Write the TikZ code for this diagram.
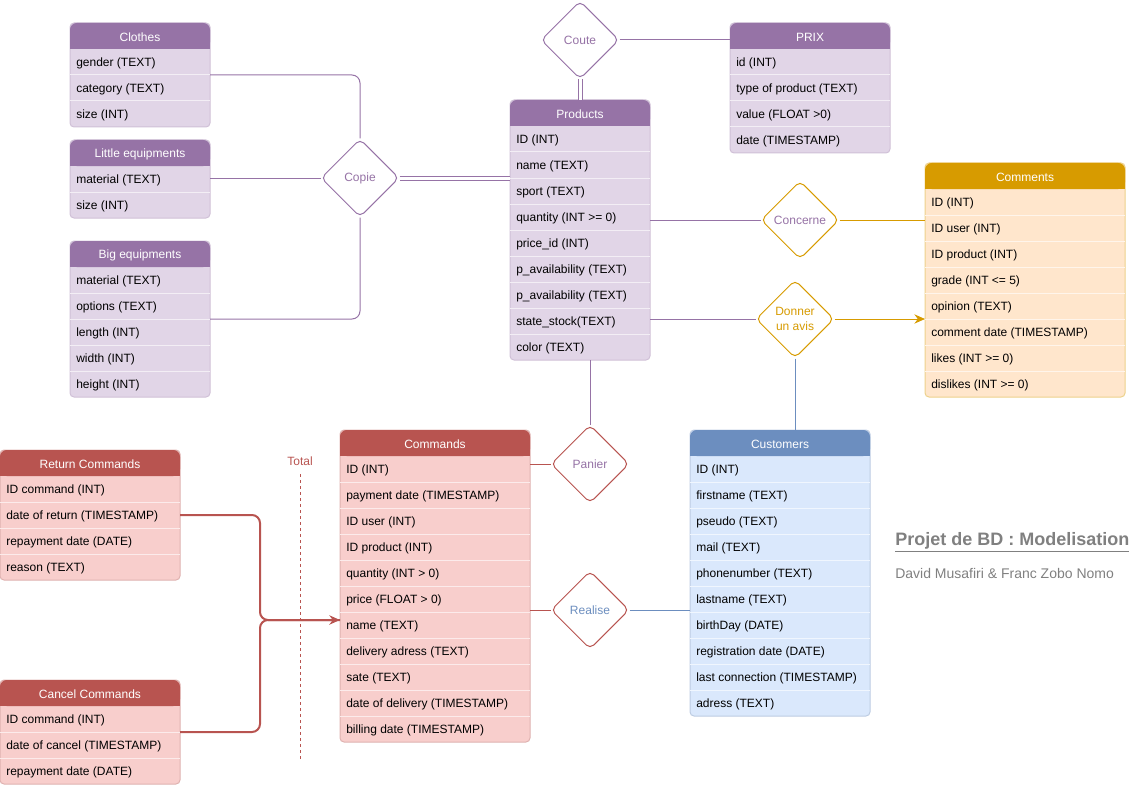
\documentclass[tikz,border=0pt]{standalone}
\usepackage{fontspec}
\setmainfont{Liberation Sans}
\usetikzlibrary{shapes.geometric,arrows.meta}

\definecolor{purplehd}{HTML}{9673A6}
\definecolor{purplebg}{HTML}{E1D5E7}
\definecolor{orangehd}{HTML}{D79B00}
\definecolor{orangebg}{HTML}{FFE6CC}
\definecolor{redhd}{HTML}{B85450}
\definecolor{redbg}{HTML}{F8CECC}
\definecolor{bluehd}{HTML}{6C8EBF}
\definecolor{bluebg}{HTML}{DAE8FC}
\definecolor{titlegray}{HTML}{808080}

\tikzset{
  field/.style={anchor=west, inner sep=0pt, text=black},
  heading/.style={text=white, inner sep=0pt},
  entitybox/.style={inner sep=0pt, outer sep=0pt},
  rel/.style={diamond, draw=#1, fill=white, line width=0.75pt, rounded corners=4pt,
    minimum width=58.5pt, minimum height=58.5pt, inner sep=0pt, align=center},
  link/.style={draw=#1, line width=0.75pt},
}

% #1 name, #2 x, #3 y, #4 width, #5 rows, #6 colour, #7 title, #8 fields
\newcommand{\erentity}[8]{%
  \fill[#6bg, rounded corners=3pt] (#2,#3) rectangle ++(#4,26+26*#5);
  \draw[#6hd!45, line width=0.75pt, rounded corners=3pt] (#2,#3) rectangle ++(#4,26+26*#5);
  \fill[#6hd, rounded corners=5pt] (#2,#3) rectangle ++(#4,26);
  \fill[#6hd] (#2,#3+13) rectangle ++(#4,13);
  \node[entitybox, anchor=north west, minimum width={#4*0.75pt},
    minimum height={(26+26*#5)*0.75pt}] (#1) at (#2,#3) {};
  \node[heading] (#1-h) at (#2+#4/2,#3+14) {#7};
  \foreach \f [count=\i] in {#8} {
    \ifnum\i>1 \draw[white!60!#6bg, line width=0.75pt] (#2,#3+26*\i) -- ++(#4,0); \fi
    \node[field] (#1-\i) at (#2+6,#3+14.5+26*\i) {\f};
  }%
}

\begin{document}
\begin{tikzpicture}[x=0.75pt, y=-0.75pt, font=\fontsize{9}{11}\selectfont]
    \useasboundingbox (0,0) rectangle (1141,788);

    % Produits et categories
    \erentity{clothes}{70}{23}{140}{3}{purple}{Clothes}{gender (TEXT), category (TEXT), size (INT)}
    \erentity{little}{70}{140}{140}{2}{purple}{Little equipments}{material (TEXT), size (INT)}
    \erentity{big}{70}{241}{140}{5}{purple}{Big equipments}{material (TEXT), options (TEXT), length (INT), width (INT), height (INT)}
    \erentity{products}{510}{100}{140}{9}{purple}{Products}{ID (INT), name (TEXT), sport (TEXT), quantity (INT >= 0), price\_id (INT), p\_availability (TEXT), p\_availability (TEXT), state\_stock(TEXT), color (TEXT)}
    \erentity{prix}{730}{23}{160}{4}{purple}{PRIX}{id (INT), type of product (TEXT), value (FLOAT >0), date (TIMESTAMP)}

    % Avis
    \erentity{comments}{925}{163}{200}{8}{orange}{Comments}{ID (INT), ID user (INT), ID product (INT), grade (INT <= 5), opinion (TEXT), comment date (TIMESTAMP), likes (INT >= 0), dislikes (INT >= 0)}

    % Commandes
    \erentity{returns}{0}{450}{180}{4}{red}{Return Commands}{ID command (INT), date of return (TIMESTAMP), repayment date (DATE), reason (TEXT)}
    \erentity{cancel}{0}{680}{180}{3}{red}{Cancel Commands}{ID command (INT), date of cancel (TIMESTAMP), repayment date (DATE)}
    \erentity{commands}{340}{430}{190}{11}{red}{Commands}{ID (INT), payment date (TIMESTAMP), ID user (INT), ID product (INT), quantity (INT > 0), price (FLOAT > 0), name (TEXT), delivery adress (TEXT), sate (TEXT), date of delivery (TIMESTAMP), billing date (TIMESTAMP)}

    % Clients
    \erentity{customers}{690}{430}{180}{10}{blue}{Customers}{ID (INT), firstname (TEXT), pseudo (TEXT), mail (TEXT), phonenumber (TEXT), lastname (TEXT), birthDay (DATE), registration date (DATE), last connection (TIMESTAMP), adress (TEXT)}

    % Relations
    \node[rel=purplehd, text=purplehd] (copie) at (360,178) {Copie};
    \node[rel=purplehd, text=purplehd] (coute) at (580,40) {Coute};
    \node[rel=orangehd, text=purplehd] (concerne) at (800,220) {Concerne};
    \node[rel=orangehd, text=orangehd] (avis) at (795,319) {Donner\\un avis};
    \node[rel=redhd, text=purplehd] (panier) at (590,464) {Panier};
    \node[rel=redhd, text=bluehd] (realise) at (590,610) {Realise};

    \draw[link=purplehd, rounded corners=6pt] (clothes.east) -| (copie.north);
    \draw[link=purplehd] (copie.west -| little.east) -- (copie.west);
    \draw[link=purplehd, rounded corners=6pt] (big.east) -| (copie.south);
    \draw[link=purplehd, double=white, double distance=2.25pt] (copie.east) -- (copie.east -| products.west);
    \draw[link=purplehd, double=white, double distance=2.25pt] (coute.south) -- (products.north);
    \draw[link=purplehd] (coute.east) -- (coute.east -| prix.west);
    \draw[link=purplehd] (concerne.west -| products.east) -- (concerne.west);
    \draw[link=orangehd] (concerne.east) -- (concerne.east -| comments.west);
    \draw[link=purplehd] (avis.west -| products.east) -- (avis.west);
    \draw[link=orangehd, -{Stealth[length=8pt, width=7pt]}] (avis.east) -- (avis.east -| comments.west);
    \draw[link=bluehd] (avis.south) -- (avis.south |- customers.north);
    \draw[link=purplehd] (panier.north) -- (panier.north |- products.south);
    \draw[link=redhd] (panier.west -| commands.east) -- (panier.west);
    \draw[link=redhd] (realise.west -| commands.east) -- (realise.west);
    \draw[link=bluehd] (realise.east) -- (realise.east -| customers.west);

    % Heritage
    \coordinate (merge) at (260,620);
    \draw[link=redhd, line width=1.5pt, rounded corners=6pt] (returns.east) -| (merge) -- (merge -| commands.west);
    \draw[link=redhd, line width=1.5pt, rounded corners=6pt, -{Stealth[length=8pt, width=7pt]}] (cancel.east) -| (merge) -- (merge -| commands.west);

    \node[text=redhd] (total) at (300,461) {Total};
    \coordinate (totalend) at (300,760);
    \draw[redhd, line width=0.5pt, dash pattern=on 2.25pt off 2.25pt] ([yshift=-3pt]total.south) -- (totalend);

    % Titre
    \node[anchor=west, inner sep=0pt, text=titlegray, font=\fontsize{13.5}{16}\selectfont\bfseries] (title) at (895,542) {\underline{Projet de BD : Modelisation}};
    \node[anchor=west, inner sep=0pt, text=titlegray, font=\fontsize{10.5}{12}\selectfont] (authors) at (895,573) {David Musafiri \& Franc Zobo Nomo};
\end{tikzpicture}
\end{document}
